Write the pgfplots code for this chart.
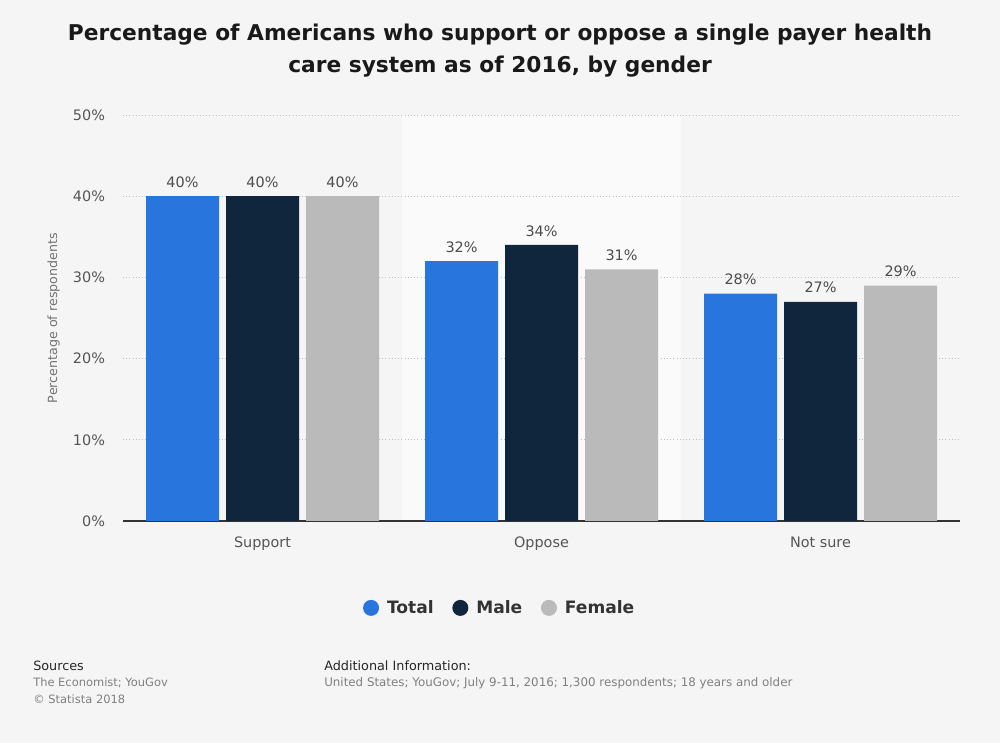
\documentclass[border=0pt]{standalone}
\usepackage{pgfplots}
\pgfplotsset{compat=1.18}
\usepackage{fontspec}
\setmainfont{DejaVu Sans}
\definecolor{bg}{HTML}{F5F5F5}
\definecolor{band}{HTML}{FAFAFA}
\definecolor{cTotal}{HTML}{2876DD}
\definecolor{cMale}{HTML}{10263D}
\definecolor{cFemale}{HTML}{BABABA}
\definecolor{tick}{HTML}{555555}
\definecolor{grid}{HTML}{C8C8C8}
\begin{document}
\begin{tikzpicture}
\fill[bg] (0,0) rectangle (750pt,557.25pt);
\useasboundingbox (0,0) rectangle (750pt,557.25pt);
\begin{scope}[x=0.75pt,y=0.75pt]
\fill[band] (402,222) rectangle (681,628);
\node[font=\bfseries\fontsize{16.3}{24}\selectfont, text=black!90, align=center] at (500,692) {Percentage of Americans who support or oppose a single payer health\\care system as of 2016, by gender};
\node[anchor=base west, inner sep=0pt, font=\fontsize{9.6}{11}\selectfont, text=black!85] at (33,73) {Sources};
\node[anchor=base west, inner sep=0pt, font=\fontsize{8.6}{10}\selectfont, text=gray] at (33,56) {The Economist; YouGov};
\node[anchor=base west, inner sep=0pt, font=\fontsize{8.6}{10}\selectfont, text=gray] at (33,40) {\textcopyright{} Statista 2018};
\node[anchor=base west, inner sep=0pt, font=\fontsize{9.6}{11}\selectfont, text=black!85] at (324,73) {Additional Information:};
\node[anchor=base west, inner sep=0pt, font=\fontsize{8.9}{10}\selectfont, text=gray] at (324,56) {United States; YouGov; July 9-11, 2016; 1,300 respondents; 18 years and older};
\end{scope}
\begin{axis}[
  at={(92.25pt,166.5pt)}, anchor=south west,
  scale only axis, width=627.75pt, height=304.5pt,
  xmin=-0.5, xmax=2.5, ymin=0, ymax=50,
  ybar, bar width=54.75pt,
  xtick={0,1,2}, xticklabels={Support,Oppose,Not sure},
  ytick={0,10,20,30,40,50},
  yticklabel={\pgfmathprintnumber{\tick}\%},
  /pgf/number format/assume math mode=true,
  ticklabel style={font=\fontsize{10.8}{13}\selectfont, text=tick},
  xticklabel style={yshift=-8.5pt},
  yticklabel style={xshift=-10pt},
  major tick length=0pt,
  axis lines*=left,
  y axis line style={draw=none},
  x axis line style={draw=black!80, line width=0.8pt},
  ymajorgrids, xmajorgrids=false, grid style={grid, dotted, line width=0.6pt},
  ylabel={Percentage of respondents},
  ylabel style={font=\fontsize{9.5}{11}\selectfont, text=gray!90!black, yshift=3pt},
  nodes near coords={\pgfmathprintnumber{\pgfplotspointmeta}\%},
  every node near coord/.append style={font=\fontsize{10.8}{13}\selectfont, text=black!70, yshift=3pt},
  legend style={at={(0.4504,-0.214)}, anchor=center, draw=none, fill=none, legend columns=3,
    font=\bfseries\fontsize{12.8}{14}\selectfont, text=black!80,
    /tikz/every odd column/.append style={column sep=4pt},
    /tikz/every even column/.append style={column sep=12pt}},
  legend image code/.code={\fill[#1] (0.3em,0) circle (6pt);},
  clip=false,
]
\addplot[fill=cTotal, draw=none, bar shift=-60pt] coordinates {(0,40) (1,32) (2,28)};
\addplot[fill=cMale, draw=none, bar shift=0pt] coordinates {(0,40) (1,34) (2,27)};
\addplot[fill=cFemale, draw=none, bar shift=60pt] coordinates {(0,40) (1,31) (2,29)};
\legend{Total,Male,Female}
\end{axis}
\end{tikzpicture}
\end{document}
